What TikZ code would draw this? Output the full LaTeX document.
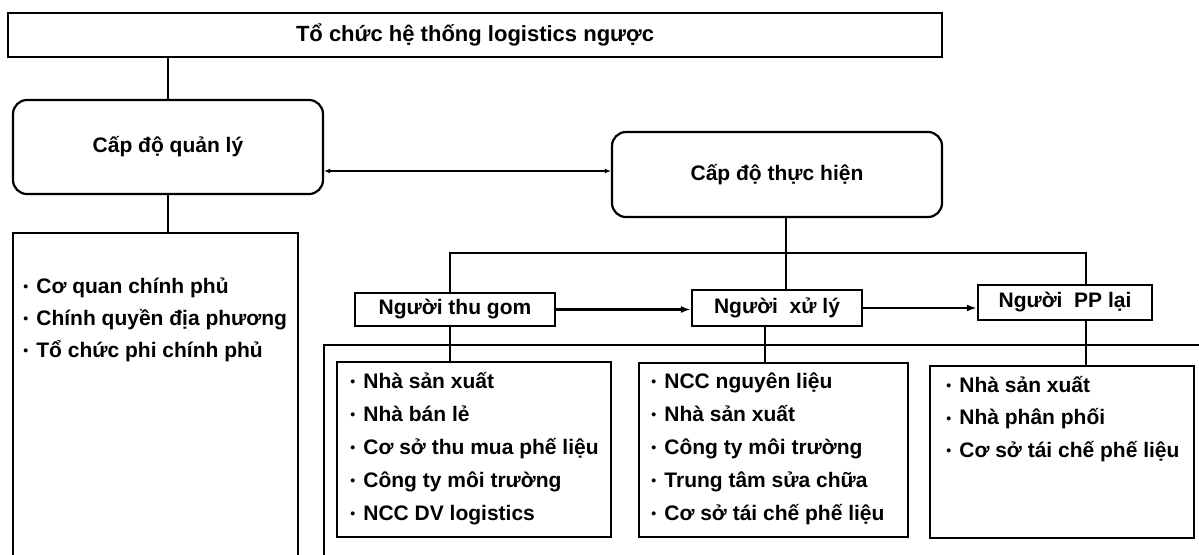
\documentclass[tikz,border=0pt]{standalone}
\usepackage{fontspec}
\setmainfont{Liberation Sans}
\usetikzlibrary{arrows.meta}

\tikzset{
  box/.style={draw, line width=1.1pt, inner sep=0pt, font=\bfseries\fontsize{10.5}{12}\selectfont},
  level/.style={box, rounded corners=7pt},
  frame/.style={draw, line width=1.1pt, inner sep=0pt, anchor=north west},
  item/.style={anchor=base west, inner sep=0pt, font=\bfseries\fontsize{10.5}{12}\selectfont},
  link/.style={line width=1.1pt},
  flow/.style={line width=1.1pt, -{Latex[length=5pt,width=3.5pt]}},
}
\newcommand{\bul}{\makebox[6.5pt][l]{\raisebox{0.6pt}{\scriptsize\textbullet}}}

\begin{document}
\begin{tikzpicture}[x=0.5pt, y=-0.5pt]
    \useasboundingbox (0,0) rectangle (1199,554);
    \clip (0,0) rectangle (1199,554);

    % Title box and the two levels
    \node[box, minimum width=467pt, minimum height=22pt,
          font=\bfseries\fontsize{11}{13}\selectfont] (org) at (475,35) {Tổ chức hệ thống logistics ngược};
    \node[level, minimum width=155pt, minimum height=47pt] (ql) at (168,147) {Cấp độ quản lý};
    \node[level, minimum width=165pt, minimum height=42.5pt] (th) at (777,174.5) {Cấp độ thực hiện};

    % Actors of the execution level
    \node[box, minimum width=100pt, minimum height=16.5pt] (tg) at (455,309.5) {Người thu gom};
    \node[box, minimum width=85pt, minimum height=18pt] (xl) at (777,308) {Người\ \ xử lý};
    \node[box, minimum width=87pt, minimum height=17.5pt] (pp) at (1065,302.5) {Người\ \ PP lại};

    % Frames (the outer ones run past the page edge)
    \node[frame, minimum width=142.5pt, minimum height=200pt] (qlb) at (12,232) {};
    \node[frame, minimum width=500pt, minimum height=200pt] (exe) at (323,344) {};
    \node[frame, minimum width=137pt, minimum height=87.5pt] (tgb) at (336,361) {};
    \node[frame, minimum width=134.5pt, minimum height=87pt] (xlb) at (638,362) {};
    \node[frame, minimum width=132pt, minimum height=86pt] (ppb) at (929,365) {};

    % Lists inside the frames
    \foreach \t [count=\k] in {Cơ quan chính phủ, Chính quyền địa phương, Tổ chức phi chính phủ}
      \node[item] (qli\k) at (23,{293+32*(\k-1)}) {\bul\t};
    \foreach \t [count=\k] in {Nhà sản xuất, Nhà bán lẻ, Cơ sở thu mua phế liệu, Công ty môi trường, NCC DV logistics}
      \node[item] (tgi\k) at (350,{388+33*(\k-1)}) {\bul\t};
    \foreach \t [count=\k] in {NCC nguyên liệu, Nhà sản xuất, Công ty môi trường, Trung tâm sửa chữa, Cơ sở tái chế phế liệu}
      \node[item] (xli\k) at (651,{388+33*(\k-1)}) {\bul\t};
    \foreach \t [count=\k] in {Nhà sản xuất, Nhà phân phối, Cơ sở tái chế phế liệu}
      \node[item] (ppi\k) at (946,{392+32.5*(\k-1)}) {\bul\t};

    % Connectors
    \coordinate (bus) at (0,253);
    \draw[link] (org.south -| ql.north) -- (ql.north);
    \draw[link, {Latex[length=3pt,width=2.5pt]}-{Latex[length=3pt,width=2.5pt]}]
      ([yshift=-12pt]ql.east) -- ([yshift=-12pt]ql.east -| th.west);
    \draw[link] (ql.south) -- (ql.south |- qlb.north);
    \draw[link] ([xshift=4.5pt]th.south) -- ([xshift=4.5pt]th.south |- xl.north);
    \draw[link] ([xshift=-2.5pt]tg.north) |- ([xshift=10.5pt]pp.north |- bus) -- ([xshift=10.5pt]pp.north);
    \draw[link] ([xshift=-2.5pt]tg.south) -- ([xshift=-2.5pt]tg.south |- tgb.north);
    \draw[link] ([xshift=-6pt]xl.south) -- ([xshift=-6pt]xl.south |- xlb.north);
    \draw[link] ([xshift=10.5pt]pp.south) -- ([xshift=10.5pt]pp.south |- ppb.north);
    \draw[flow] (tg.east) -- (tg.east -| xl.west);
    \draw[flow] (xl.east) -- (xl.east -| pp.west);
\end{tikzpicture}
\end{document}
